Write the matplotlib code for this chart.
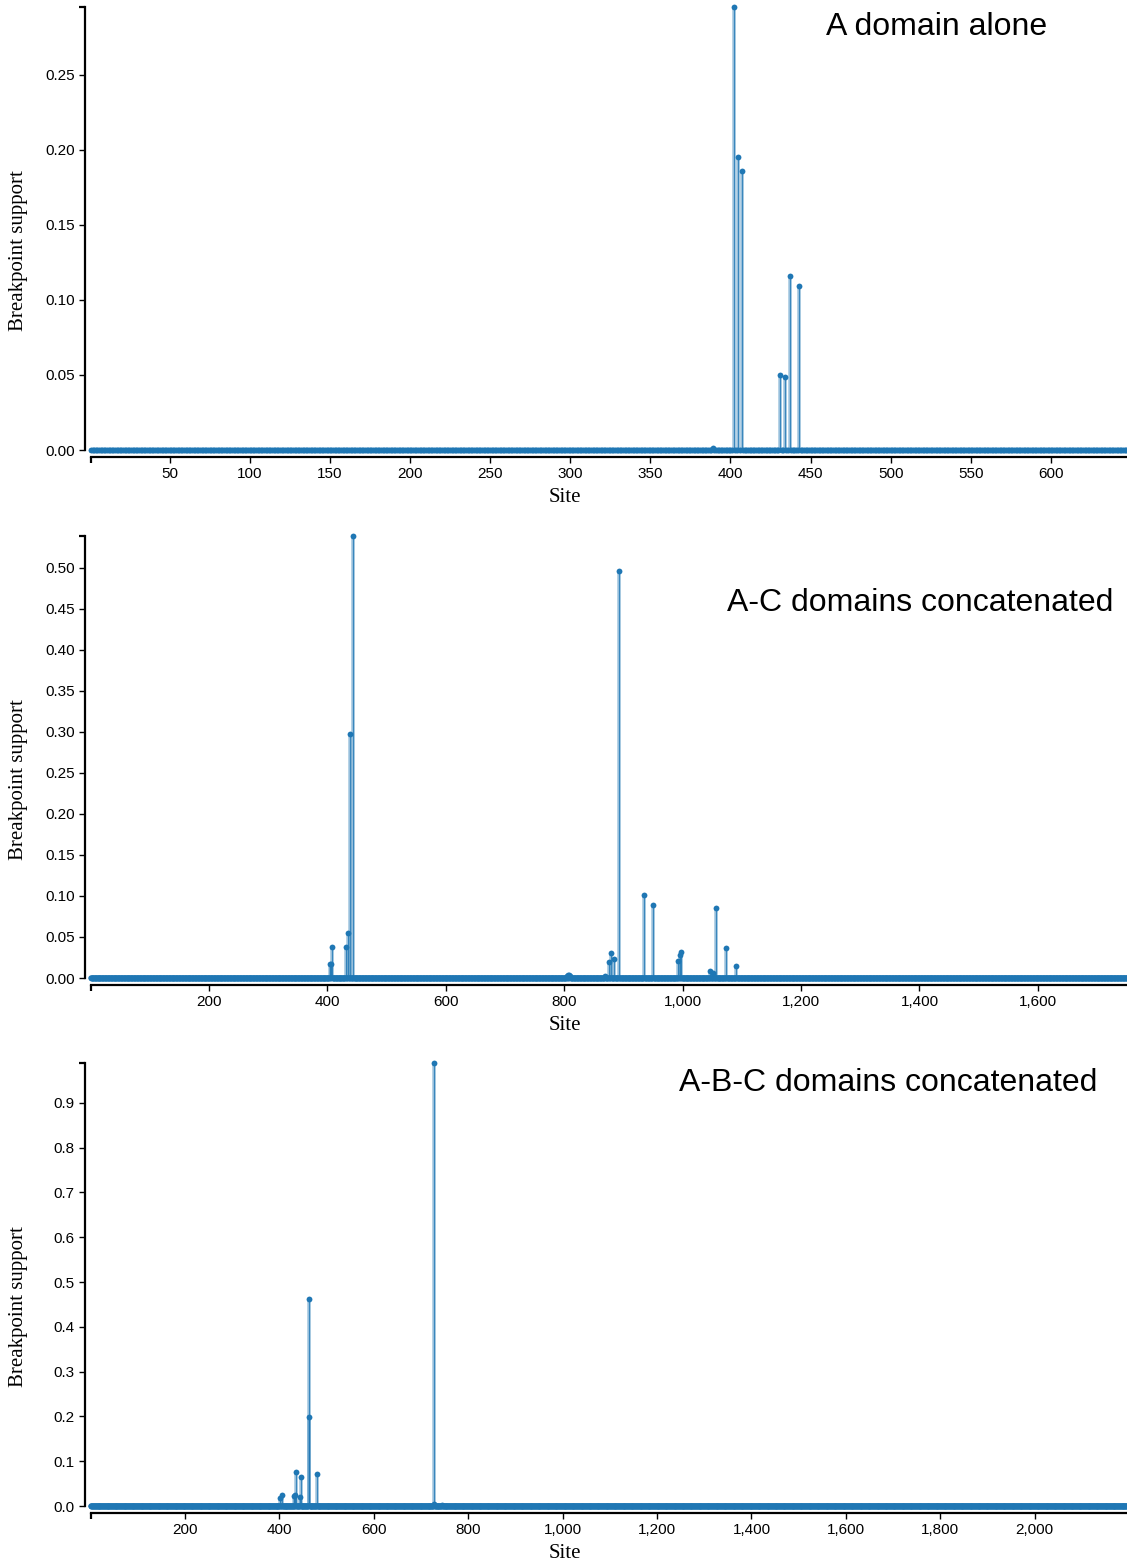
"""
Breakpoint support along the alignment for the A domain alone and for the
A-C and A-B-C concatenated alignments, drawn as lollipop stems over a row
of per-site dots.
"""
import numpy as np
import matplotlib.pyplot as plt
from matplotlib.ticker import MultipleLocator, StrMethodFormatter

OUTPUT = "out.png"

BLUE = "#1f77b4"
SERIF = ["Liberation Serif", "DejaVu Serif"]
SANS = ["Liberation Sans", "DejaVu Sans"]

# A domain alone
SITES_A = [389, 402, 405, 407, 431, 434, 437, 443]
SUPPORT_A = [0.001, 0.2953, 0.195, 0.186, 0.0498, 0.0487, 0.1162, 0.1096]
LENGTH_A = 647

# A-C domains concatenated
SITES_AC = [404, 406, 408, 431, 435, 438, 443, 804, 806, 808, 810, 869, 875,
            879, 885, 893, 935, 950, 992, 995, 997, 1047, 1052, 1057, 1073, 1091]
SUPPORT_AC = [0.0167, 0.0167, 0.0374, 0.0374, 0.0545, 0.298, 0.539, 0.002,
              0.004, 0.004, 0.002, 0.002, 0.0199, 0.030, 0.0236, 0.496, 0.1016,
              0.0886, 0.0211, 0.028, 0.0313, 0.0085, 0.0065, 0.0858, 0.0366, 0.0142]
LENGTH_AC = 1750

# A-B-C domains concatenated
SITES_ABC = [401, 406, 432, 434, 436, 443, 446, 462, 463, 479, 727, 728, 745]
SUPPORT_ABC = [0.018, 0.0245, 0.022, 0.0245, 0.075, 0.021, 0.0647, 0.1994,
               0.4627, 0.0714, 0.005, 0.989, 0.002]
LENGTH_ABC = 2195

PANELS = [
    ("A domain alone", SITES_A, SUPPORT_A, LENGTH_A, 50, "{x:.0f}", 0.05, "{x:.2f}",
     (450, 443), (1047, 24)),
    ("A-C domains concatenated", SITES_AC, SUPPORT_AC, LENGTH_AC, 200, "{x:,.0f}",
     0.05, "{x:.2f}", (978, 442), (1113, 600)),
    ("A-B-C domains concatenated", SITES_ABC, SUPPORT_ABC, LENGTH_ABC, 200, "{x:,.0f}",
     0.1, "{x:.1f}", (1506, 443), (1097, 1080)),
]

W, H = 1127, 1564
AX_LEFT = 91


def draw_panel(ax, title, sites, support, length, xstep, xfmt, ystep, yfmt, title_xy):
    all_sites = np.arange(1, length + 1)
    values = np.zeros(length)
    values[np.array(sites) - 1] = support

    ymax = max(support)
    ax.set_xlim(1, length + 0.5)
    ax.set_ylim(0, ymax)

    # stems for every site with support
    for s, v in zip(sites, support):
        ax.plot([s, s], [0, v], color=BLUE, lw=2.6, alpha=0.4,
                solid_capstyle="butt", clip_on=False, zorder=2)
        ax.plot([s, s], [0, v], color=BLUE, lw=0.9, alpha=0.8,
                solid_capstyle="butt", clip_on=False, zorder=2)

    # sites without support merge into one thick band at zero
    zero = values == 0
    ax.plot(all_sites[zero], values[zero], color=BLUE, lw=3.8,
            solid_capstyle="round", clip_on=False, zorder=3)
    ax.plot(all_sites, values, ls="none", marker="o", ms=4.2, mec="none",
            color=BLUE, clip_on=False, zorder=3)

    for side in ("top", "right"):
        ax.spines[side].set_visible(False)
    ax.spines["left"].set_position(("outward", 4.3))
    ax.spines["bottom"].set_position(("outward", 5.0))
    for side in ("left", "bottom"):
        ax.spines[side].set_linewidth(1.6)

    ax.xaxis.set_major_locator(MultipleLocator(xstep))
    ax.xaxis.set_major_formatter(StrMethodFormatter(xfmt))
    ax.yaxis.set_major_locator(MultipleLocator(ystep))
    ax.yaxis.set_major_formatter(StrMethodFormatter(yfmt))
    ax.set_xticks([1], minor=True)
    ax.set_yticks([ymax], minor=True)
    ax.tick_params(axis="both", which="both", length=4.5, width=1.0,
                   labelsize=11, pad=3)
    ax.tick_params(axis="both", which="minor", width=1.6)
    for lab in ax.get_xticklabels() + ax.get_yticklabels():
        lab.set_family(SANS)

    ax.set_xlabel("Site", family=SERIF, fontsize=15)
    ax.set_ylabel("Breakpoint support", family=SERIF, fontsize=15)
    ax.xaxis.set_label_coords((565 - AX_LEFT) / (W - AX_LEFT), -0.086)
    ax.yaxis.set_label_coords((28 - AX_LEFT) / (W - AX_LEFT), 0.45)

    fig.text(title_xy[0] / W, 1 - (title_xy[1] + 3) / H, title, family=SANS,
             fontsize=23, ha="right", va="center")


fig = plt.figure(figsize=(W / 100, H / 100), dpi=100)

for title, sites, support, length, xstep, xfmt, ystep, yfmt, (zero_y, height), title_xy in PANELS:
    ax = fig.add_axes([AX_LEFT / W, 1 - zero_y / H, (W - AX_LEFT) / W, height / H])
    draw_panel(ax, title, sites, support, length, xstep, xfmt, ystep, yfmt, title_xy)

plt.savefig(OUTPUT, dpi=100)
